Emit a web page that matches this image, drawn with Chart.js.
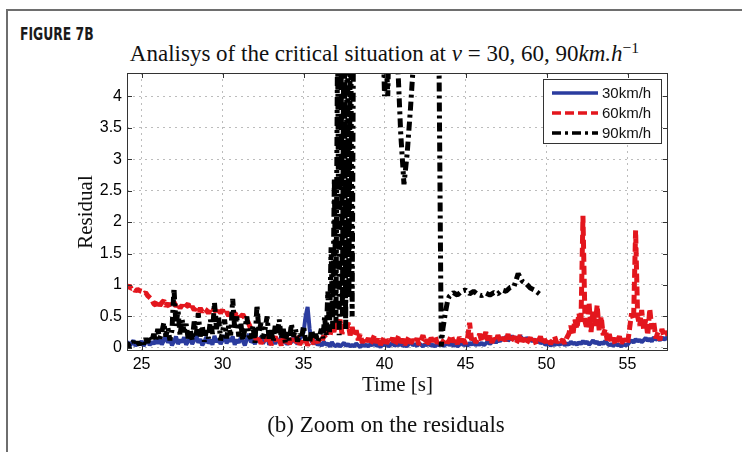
<!DOCTYPE html>
<html>
<head>
<meta charset="utf-8">
<script src="https://cdn.jsdelivr.net/npm/chart.js@4.4.1/dist/chart.umd.min.js"></script>
<style>
  html, body { margin: 0; padding: 0; background: #fff; }
  body { width: 742px; height: 452px; position: relative; overflow: hidden; }
  #frame { position: absolute; left: 6px; top: 9px; width: 800px; height: 500px;
           border-top: 2px solid #6e6e6e; border-left: 2px solid #6e6e6e; }
  #fig { position: absolute; left: 20px; top: 24px; line-height: 17px; color: #1a1a1a;
         font: bold 17px "Liberation Sans Narrow", "DejaVu Sans Condensed", sans-serif;
         transform: scaleX(0.81); transform-origin: 0 0; white-space: nowrap; }
  #title { position: absolute; left: 0; width: 769px; top: 41px; text-align: center;
           font: 23px "Liberation Serif", serif; line-height: 26px; color: #111; }
  #title sup { font-size: 0.68em; vertical-align: 0.5em; line-height: 0; }
  #caption { position: absolute; left: 0; width: 772px; top: 411px; text-align: center;
             font: 23px "Liberation Serif", serif; line-height: 28px; color: #111; }
  #chart { position: absolute; left: 0; top: 0; }
</style>
</head>
<body>
<div id="frame"></div>
<div id="fig">FIGURE 7B</div>
<div id="title">Analisys of the critical situation at <i>v</i> = 30, 60, 90<i>km.h</i><sup>−1</sup></div>
<canvas id="chart" width="742" height="452"></canvas>
<div id="caption">(b) Zoom on the residuals</div>
<script>
// ── Data ──────────────────────────────────────────────────────────────
var xTicks = [25, 30, 35, 40, 45, 50, 55];
var yTicks = [0, 0.5, 1, 1.5, 2, 2.5, 3, 3.5, 4];

// shared sample times for the 30 and 60 km/h runs [s], one row per second
var time = [
  24, 24.125, 24.25, 24.375, 24.5, 24.625, 24.75, 24.875,
  25, 25.125, 25.25, 25.375, 25.5, 25.625, 25.75, 25.875,
  26, 26.125, 26.25, 26.375, 26.5, 26.625, 26.75, 26.875,
  27, 27.125, 27.25, 27.375, 27.5, 27.625, 27.75, 27.875,
  28, 28.125, 28.25, 28.375, 28.5, 28.625, 28.75, 28.875,
  29, 29.125, 29.25, 29.375, 29.5, 29.625, 29.75, 29.875,
  30, 30.125, 30.25, 30.375, 30.5, 30.625, 30.75, 30.875,
  31, 31.125, 31.25, 31.375, 31.5, 31.625, 31.75, 31.875,
  32, 32.125, 32.25, 32.375, 32.5, 32.625, 32.75, 32.875,
  33, 33.125, 33.25, 33.375, 33.5, 33.625, 33.75, 33.875,
  34, 34.125, 34.25, 34.375, 34.5, 34.625, 34.75, 34.875,
  35, 35.125, 35.25, 35.375, 35.5, 35.625, 35.75, 35.875,
  36, 36.125, 36.25, 36.375, 36.5, 36.625, 36.75, 36.875,
  37, 37.125, 37.25, 37.375, 37.5, 37.625, 37.75, 37.875,
  38, 38.125, 38.25, 38.375, 38.5, 38.625, 38.75, 38.875,
  39, 39.125, 39.25, 39.375, 39.5, 39.625, 39.75, 39.875,
  40, 40.125, 40.25, 40.375, 40.5, 40.625, 40.75, 40.875,
  41, 41.125, 41.25, 41.375, 41.5, 41.625, 41.75, 41.875,
  42, 42.125, 42.25, 42.375, 42.5, 42.625, 42.75, 42.875,
  43, 43.125, 43.25, 43.375, 43.5, 43.625, 43.75, 43.875,
  44, 44.125, 44.25, 44.375, 44.5, 44.625, 44.75, 44.875,
  45, 45.125, 45.25, 45.375, 45.5, 45.625, 45.75, 45.875,
  46, 46.125, 46.25, 46.375, 46.5, 46.625, 46.75, 46.875,
  47, 47.125, 47.25, 47.375, 47.5, 47.625, 47.75, 47.875,
  48, 48.125, 48.25, 48.375, 48.5, 48.625, 48.75, 48.875,
  49, 49.125, 49.25, 49.375, 49.5, 49.625, 49.75, 49.875,
  50, 50.125, 50.25, 50.375, 50.5, 50.625, 50.75, 50.875,
  51, 51.125, 51.25, 51.375, 51.5, 51.625, 51.75, 51.875,
  52, 52.125, 52.25, 52.375, 52.5, 52.625, 52.75, 52.875,
  53, 53.125, 53.25, 53.375, 53.5, 53.625, 53.75, 53.875,
  54, 54.125, 54.25, 54.375, 54.5, 54.625, 54.75, 54.875,
  55, 55.125, 55.25, 55.375, 55.5, 55.625, 55.75, 55.875,
  56, 56.125, 56.25, 56.375, 56.5, 56.625, 56.75, 56.875,
  57, 57.125, 57.25, 57.375, 57.5
];

var res30 = [
  0.04, 0.1, 0.02, 0.07, 0.12, 0.03, 0.08, 0.05,
  0.11, 0.03, 0.09, 0.14, 0.04, 0.1, 0.06, 0.13,
  0.07, 0.16, 0.05, 0.12, 0.2, 0.08, 0.15, 0.04,
  0.1, 0.18, 0.06, 0.13, 0.09, 0.17, 0.05, 0.11,
  0.15, 0.06, 0.12, 0.2, 0.08, 0.14, 0.04, 0.1,
  0.17, 0.07, 0.13, 0.05, 0.19, 0.09, 0.14, 0.06,
  0.12, 0.2, 0.07, 0.15, 0.1, 0.18, 0.05, 0.13,
  0.08, 0.16, 0.11, 0.04, 0.14, 0.22, 0.09, 0.12,
  0.06, 0.15, 0.1, 0.18, 0.07, 0.13, 0.2, 0.05,
  0.11, 0.17, 0.06, 0.14, 0.09, 0.19, 0.07, 0.12,
  0.05, 0.13, 0.08, 0.16, 0.1, 0.06, 0.14, 0.18,
  0.25, 0.5, 0.65, 0.3, 0.1, 0.06, 0.12, 0.04,
  0.08, 0.03, 0.1, 0.05, 0.07, 0.02, 0.09, 0.04,
  0.03, 0.06, 0.02, 0.05, 0.08, 0.03, 0.06, 0.02,
  0.05, 0.02, 0.07, 0.04, 0.01, 0.06, 0.03, 0.05,
  0.02, 0.06, 0.04, 0.08, 0.03, 0.05, 0.01, 0.06,
  0.04, 0.07, 0.02, 0.05, 0.09, 0.03, 0.06, 0.04,
  0.07, 0.03, 0.05, 0.02, 0.06, 0.08, 0.04, 0.06,
  0.03, 0.07, 0.05, 0.02, 0.06, 0.04, 0.08, 0.03,
  0.05, 0.02, 0.06, 0.04, 0.07, 0.03, 0.05, 0.08,
  0.04, 0.07, 0.03, 0.06, 0.02, 0.05, 0.08, 0.04,
  0.06, 0.03, 0.08, 0.05, 0.09, 0.04, 0.07, 0.05,
  0.08, 0.04, 0.07, 0.1, 0.06, 0.09, 0.12, 0.08,
  0.13, 0.1, 0.16, 0.12, 0.18, 0.11, 0.15, 0.19,
  0.14, 0.17, 0.12, 0.19, 0.15, 0.11, 0.16, 0.13,
  0.15, 0.1, 0.14, 0.08, 0.12, 0.07, 0.1, 0.06,
  0.05, 0.08, 0.03, 0.07, 0.04, 0.09, 0.05, 0.06,
  0.08, 0.04, 0.07, 0.05, 0.1, 0.06, 0.08, 0.05,
  0.09, 0.06, 0.11, 0.07, 0.1, 0.05, 0.08, 0.12,
  0.07, 0.1, 0.05, 0.09, 0.06, 0.11, 0.07, 0.04,
  0.06, 0.03, 0.07, 0.04, 0.05, 0.02, 0.06, 0.04,
  0.05, 0.09, 0.12, 0.08, 0.14, 0.1, 0.13, 0.09,
  0.12, 0.16, 0.11, 0.15, 0.1, 0.17, 0.13, 0.15,
  0.12, 0.17, 0.13, 0.16, 0.14
];

var res60 = [
  0.98, 0.96, 0.99, 0.94, 0.95, 0.9, 0.93, 0.91,
  0.9, 0.86, 0.88, 0.83, 0.8, 0.77, 0.7, 0.68,
  0.74, 0.67, 0.72, 0.75, 0.66, 0.71, 0.64, 0.69,
  0.73, 0.66, 0.7, 0.63, 0.68, 0.62, 0.67, 0.7,
  0.61, 0.66, 0.6, 0.64, 0.58, 0.63, 0.57, 0.62,
  0.6, 0.55, 0.61, 0.57, 0.63, 0.54, 0.59, 0.56,
  0.6, 0.53, 0.57, 0.51, 0.56, 0.5, 0.55, 0.52,
  0.56, 0.5, 0.53, 0.47, 0.45, 0.38, 0.3, 0.22,
  0.18, 0.1, 0.15, 0.07, 0.12, 0.2, 0.08, 0.14,
  0.05, 0.11, 0.18, 0.07, 0.13, 0.04, 0.16, 0.09,
  0.12, 0.06, 0.15, 0.08, 0.11, 0.18, 0.05, 0.1,
  0.07, 0.13, 0.04, 0.1, 0.16, 0.06, 0.12, 0.09,
  0.14, 0.08, 0.2, 0.15, 0.28, 0.18, 0.35, 0.25,
  0.42, 0.3, 0.45, 0.22, 0.38, 0.27, 0.4, 0.2,
  0.33, 0.18, 0.28, 0.12, 0.22, 0.08, 0.17, 0.1,
  0.15, 0.06, 0.12, 0.2, 0.08, 0.14, 0.05, 0.11,
  0.18, 0.07, 0.13, 0.09, 0.16, 0.04, 0.12, 0.19,
  0.08, 0.14, 0.05, 0.11, 0.17, 0.07, 0.13, 0.09,
  0.15, 0.05, 0.12, 0.2, 0.08, 0.13, 0.06, 0.16,
  0.1, 0.18, 0.07, 0.13, 0.05, 0.11, 0.15, 0.08,
  0.12, 0.2, 0.09, 0.14, 0.06, 0.17, 0.1, 0.13,
  0.07, 0.15, 0.4, 0.12, 0.18, 0.08, 0.14, 0.22,
  0.1, 0.16, 0.25, 0.12, 0.19, 0.08, 0.15, 0.11,
  0.2, 0.13, 0.08, 0.17, 0.11, 0.22, 0.09, 0.14,
  0.18, 0.07, 0.13, 0.2, 0.1, 0.15, 0.06, 0.12,
  0.16, 0.08, 0.14, 0.05, 0.11, 0.18, 0.07, 0.13,
  0.09, 0.15, 0.06, 0.12, 0.18, 0.08, 0.14, 0.1,
  0.13, 0.07, 0.16, 0.22, 0.35, 0.2, 0.45, 0.3,
  0.55, 0.38, 2.1, 0.42, 0.3, 0.72, 0.25, 0.6,
  0.35, 0.68, 0.28, 0.5, 0.2, 0.3, 0.12, 0.22,
  0.08, 0.16, 0.05, 0.12, 0.18, 0.07, 0.14, 0.1,
  0.06, 0.3, 0.55, 0.45, 1.87, 0.5, 0.35, 0.6,
  0.28, 0.45, 0.2, 0.62, 0.3, 0.4, 0.15, 0.25,
  0.12, 0.3, 0.18, 0.26, 0.2
];

// the 90 km/h run has its own sampling (denser where it blows up, stops at 49.6 s)
var t90 = [
  24, 24.125, 24.25, 24.375, 24.5, 24.625, 24.75, 24.875,
  25, 25.125, 25.25, 25.375, 25.5, 25.625, 25.75, 25.875,
  26, 26.125, 26.25, 26.375, 26.5, 26.625, 26.75, 26.875,
  27, 27.125, 27.25, 27.375, 27.5, 27.625, 27.75, 27.875,
  28, 28.125, 28.25, 28.375, 28.5, 28.625, 28.75, 28.875,
  29, 29.125, 29.25, 29.375, 29.5, 29.625, 29.75, 29.875,
  30, 30.125, 30.25, 30.375, 30.5, 30.625, 30.75, 30.875,
  31, 31.125, 31.25, 31.375, 31.5, 31.625, 31.75, 31.875,
  32, 32.125, 32.25, 32.375, 32.5, 32.625, 32.75, 32.875,
  33, 33.125, 33.25, 33.375, 33.5, 33.625, 33.75, 33.875,
  34, 34.125, 34.25, 34.375, 34.5, 34.625, 34.75, 34.875,
  35, 35.125, 35.25, 35.375, 35.5, 35.625, 35.75, 35.875,
  36, 36.1, 36.2, 36.3, 36.4, 36.5, 36.6, 36.7, 36.8, 36.9, 37, 37.1,
  37.2, 37.3, 37.4, 37.5, 37.6, 37.7, 37.8, 37.9, 38, 38.1, 38.2,
  38.5, 38.9, 39.3, 39.7, 39.9, 40, 40.1, 40.2, 40.35, 40.6, 40.8, 41,
  41.2, 41.4, 41.6, 41.8, 42, 42.5, 43, 43.35, 43.5, 43.6, 43.75, 43.9,
  44, 44.25, 44.5, 44.75, 45, 45.25, 45.5, 45.75, 46, 46.25, 46.5, 46.75,
  47, 47.25, 47.5, 47.75, 48, 48.25, 48.5, 48.75, 49, 49.25, 49.5, 49.6
];

var res90 = [
  0.03, 0.08, 0.02, 0.06, 0.1, 0.04, 0.09, 0.05,
  0.12, 0.06, 0.15, 0.08, 0.18, 0.1, 0.22, 0.12,
  0.3, 0.15, 0.25, 0.4, 0.18, 0.32, 0.12, 0.28,
  0.95, 0.35, 0.6, 0.2, 0.45, 0.25, 0.38, 0.15,
  0.3, 0.12, 0.42, 0.2, 0.55, 0.18, 0.35, 0.1,
  0.28, 0.15, 0.45, 0.22, 0.72, 0.3, 0.5, 0.12,
  0.25, 0.45, 0.15, 0.35, 0.2, 0.78, 0.3, 0.5,
  0.18, 0.4, 0.12, 0.3, 0.5, 0.2, 0.15, 0.35,
  0.08, 0.68, 0.25, 0.4, 0.15, 0.3, 0.5, 0.12,
  0.28, 0.1, 0.35, 0.2, 0.45, 0.15, 0.3, 0.08,
  0.25, 0.12, 0.38, 0.18, 0.3, 0.1, 0.22, 0.15,
  0.35, 0.12, 0.2, 0.08, 0.28, 0.15, 0.22, 0.1,
  0.2, 0.3, 0.15, 0.5, 0.2, 0.9, 0.25, 1.6, 0.3, 2.7, 0.4, 5,
  0.2, 5.5, 0.5, 6, 0.3, 6, 0.8, 6, 0.5, 6, 7,
  7, 8, 7.5, 6, 5, 4.0, 4.7, 4.0, 6, 6.5, 4.6, 3.4,
  2.6, 3.1, 3.8, 4.6, 6, 7, 6.5, 5, 0.02, 0.3, 0.55, 0.76,
  0.82, 0.88, 0.84, 0.9, 0.92, 0.86, 0.9, 0.85, 0.83, 0.87, 0.84, 0.88,
  0.86, 0.92, 0.9, 0.96, 0.98, 1.18, 1.06, 1.02, 0.95, 0.92, 0.87, 0.85
];

var seriesNames = ['30km/h', '60km/h', '90km/h'];
var seriesColors = ['#2b3c9f', '#e3161d', '#000000'];
var seriesDash = [[], [9, 4], [9, 4, 3, 4]];
var seriesWidth = [4, 5, 5];

// ── Chart ─────────────────────────────────────────────────────────────
var GRID = '#bcbcbc';
var TICK_FONT = { family: '"Liberation Sans", Arial, sans-serif', size: 16 };
var SERIF = '"Liberation Serif", "Times New Roman", serif';

function toPoints(xs, ys) {
  return xs.map(function (x, i) { return { x: x, y: ys[i] }; });
}

// MATLAB-style box, inward ticks and a legend inside the axes
var axesBox = {
  id: 'axesBox',
  afterDatasetsDraw: function (chart) {
    var ctx = chart.ctx, a = chart.chartArea;
    var xs = chart.scales.x, ys = chart.scales.y;
    ctx.save();
    ctx.strokeStyle = '#333';
    ctx.lineWidth = 1;
    ctx.setLineDash([]);
    ctx.strokeRect(a.left + 0.5, a.top + 0.5, a.right - a.left - 1, a.bottom - a.top - 1);
    ctx.beginPath();
    xTicks.forEach(function (v) {
      var px = Math.round(xs.getPixelForValue(v)) + 0.5;
      ctx.moveTo(px, a.bottom); ctx.lineTo(px, a.bottom - 5);
      ctx.moveTo(px, a.top); ctx.lineTo(px, a.top + 5);
    });
    yTicks.forEach(function (v) {
      var py = Math.round(ys.getPixelForValue(v)) + 0.5;
      ctx.moveTo(a.left, py); ctx.lineTo(a.left + 5, py);
      ctx.moveTo(a.right, py); ctx.lineTo(a.right - 5, py);
    });
    ctx.stroke();

    // legend
    var bw = 119, bh = 65;
    var bx = a.right - 6 - bw, by = a.top + 6;
    ctx.fillStyle = '#fff';
    ctx.fillRect(bx, by, bw, bh);
    ctx.strokeRect(bx + 0.5, by + 0.5, bw - 1, bh - 1);
    ctx.font = '15px "Liberation Sans", Arial, sans-serif';
    ctx.textBaseline = 'middle';
    ctx.textAlign = 'left';
    seriesNames.forEach(function (name, i) {
      var ry = by + 14 + i * 20;
      ctx.beginPath();
      ctx.strokeStyle = seriesColors[i];
      ctx.lineWidth = 3.5;
      ctx.setLineDash(seriesDash[i]);
      ctx.moveTo(bx + 9, ry); ctx.lineTo(bx + 55, ry);
      ctx.stroke();
      ctx.fillStyle = '#111';
      ctx.fillText(name, bx + 59, ry + 1);
    });
    ctx.restore();
  }
};

new Chart(document.getElementById('chart'), {
  type: 'line',
  data: {
    datasets: [
      { label: seriesNames[0], data: toPoints(time, res30), borderColor: seriesColors[0],
        borderWidth: seriesWidth[0], borderDash: seriesDash[0], order: 3, clip: 0 },
      { label: seriesNames[1], data: toPoints(time, res60), borderColor: seriesColors[1],
        borderWidth: seriesWidth[1], borderDash: seriesDash[1], order: 2, clip: 0 },
      { label: seriesNames[2], data: toPoints(t90, res90), borderColor: seriesColors[2],
        borderWidth: seriesWidth[2], borderDash: seriesDash[2], order: 1, clip: 0 }
    ]
  },
  options: {
    responsive: false,
    animation: false,
    layout: { padding: { left: 0, top: 73, right: 74, bottom: 0 } },
    elements: {
      point: { radius: 0, hoverRadius: 0 },
      line: { tension: 0, fill: false, borderJoinStyle: 'bevel' }
    },
    plugins: { legend: { display: false }, tooltip: { enabled: false } },
    scales: {
      x: {
        type: 'linear', min: 24.1, max: 57.5,
        afterBuildTicks: function (s) { s.ticks = xTicks.map(function (v) { return { value: v }; }); },
        afterFit: function (s) { s.height = 101; },
        grid: { color: GRID, drawTicks: false },
        border: { display: false, dash: [2, 4] },
        ticks: { autoSkip: false, maxRotation: 0, padding: 4, color: '#000', font: TICK_FONT,
                 callback: function (v) { return String(v); } },
        title: { display: true, text: 'Time [s]', color: '#111',
                 font: { family: SERIF, size: 21 }, padding: { top: 0, bottom: 54 } }
      },
      y: {
        type: 'linear', min: -0.05, max: 4.37,
        afterBuildTicks: function (s) { s.ticks = yTicks.map(function (v) { return { value: v }; }); },
        afterFit: function (s) { s.width = 127; },
        grid: { color: GRID, drawTicks: false },
        border: { display: false, dash: [2, 4] },
        ticks: { autoSkip: false, padding: 5, color: '#000', font: TICK_FONT,
                 callback: function (v) { return String(v); } },
        title: { display: true, text: 'Residual', color: '#111',
                 font: { family: SERIF, size: 21 }, padding: { top: 74, bottom: 0 } }
      }
    }
  },
  plugins: [axesBox]
});
</script>
</body>
</html>
